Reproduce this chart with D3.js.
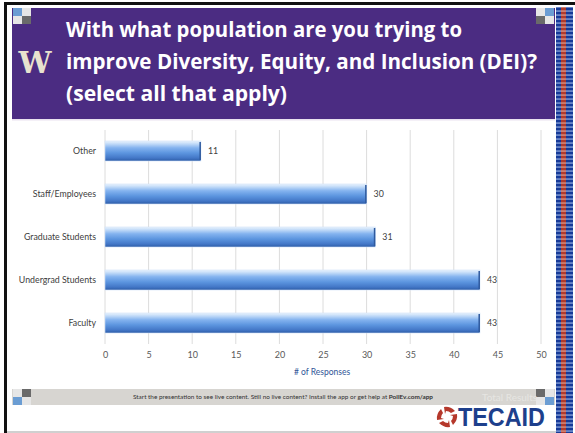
<!DOCTYPE html>
<html><head><meta charset="utf-8">
<script src="https://cdn.jsdelivr.net/npm/d3@7"></script>
<style>html,body{margin:0;padding:0;background:#fff;}svg{display:block;}</style>
</head><body>
<svg id="c" width="575" height="433"></svg>
<script>
const categories = ["Other","Staff/Employees","Graduate Students","Undergrad Students","Faculty"];
const values = [11,30,31,43,43];
const tickValues = [0,5,10,15,20,25,30,35,40,45,50];
const titleLines = ["With what population are you trying to","improve Diversity, Equity, and Inclusion (DEI)?","(select all that apply)"];
const axisTitle = "# of Responses";
const footerText = "Start the presentation to see live content. Still no live content? Install the app or get help at ";
const footerLink = "PollEv.com/app";

const svg = d3.select("#c");
const defs = svg.append("defs");

// bar gradient
const g = defs.append("linearGradient").attr("id","barg").attr("x1",0).attr("y1",0).attr("x2",0).attr("y2",1);
[["0%","#eaf4fe"],["16%","#bcd7f7"],["34%","#84b3ef"],["60%","#5c95df"],["85%","#4377c7"],["100%","#2d5ca6"]]
  .forEach(s=>g.append("stop").attr("offset",s[0]).attr("stop-color",s[1]));

// stripe pattern
const p = defs.append("pattern").attr("id","stripe").attr("patternUnits","userSpaceOnUse").attr("width",17).attr("height",4);
p.append("rect").attr("x",0).attr("y",0).attr("width",5).attr("height",4).attr("fill","#b03a2c");
p.append("rect").attr("x",5).attr("y",0).attr("width",12).attr("height",4).attr("fill","#163a98");
p.append("rect").attr("x",0).attr("y",2.5).attr("width",5).attr("height",1.1).attr("fill","#e0a89c");
p.append("rect").attr("x",5).attr("y",2.5).attr("width",12).attr("height",1.1).attr("fill","#9db6e6");

// frame
svg.append("rect").attr("x",0).attr("y",0).attr("width",575).attr("height",433).attr("fill","#fff");
svg.append("rect").attr("x",4).attr("y",2).attr("width",571).attr("height",3).attr("fill","#111");
svg.append("rect").attr("x",4).attr("y",2).attr("width",3).attr("height",431).attr("fill","#111");
svg.append("rect").attr("x",556).attr("y",7).attr("width",17).attr("height",426).attr("fill","url(#stripe)");
svg.append("rect").attr("x",7).attr("y",431).attr("width",549).attr("height",2).attr("fill","#d0d0d0");

// banner
svg.append("rect").attr("x",12).attr("y",8).attr("width",543).attr("height",111).attr("fill","#4b2c82");
svg.append("rect").attr("x",12).attr("y",119).attr("width",543).attr("height",1.5).attr("fill","#e9e2ef");

function checker(x,y,cols){
  const w=9,h=8;
  cols.forEach((c,i)=>{
    svg.append("rect").attr("x",x+(i%2)*w).attr("y",y+Math.floor(i/2)*h).attr("width",w).attr("height",h).attr("fill",c);
  });
}
const LB="#e6e6e6", DK="#6a6a6a", BL="#6b9dd3";
checker(13,8,[BL,LB,LB,DK]);
checker(536,8,[LB,BL,DK,LB]);

// W logo
svg.append("text").attr("x",35).attr("y",73).attr("text-anchor","middle")
  .attr("font-family","'DejaVu Serif','Liberation Serif',serif").attr("font-weight","bold")
  .attr("font-size",30).attr("fill","#e8e2cf").attr("textLength",33).attr("lengthAdjust","spacingAndGlyphs").text("W");

const titleY=[37,69,101], titleW=[396,471,221];
titleLines.forEach((t,i)=>{
  svg.append("text").attr("x",66).attr("y",titleY[i])
    .attr("font-family","'Open Sans',Lato,sans-serif").attr("font-weight","bold").attr("font-size",20.5)
    .attr("fill","#ffffff").attr("textLength",titleW[i]).attr("lengthAdjust","spacingAndGlyphs").text(t);
});

// chart
const x = d3.scaleLinear().domain([0,50]).range([105,541]);
const y = d3.scaleBand().domain(categories).range([129.5,344.5]).paddingInner(0.535).paddingOuter(0.2675);

svg.append("g").selectAll("line").data(tickValues).join("line")
  .attr("x1",d=>x(d)).attr("x2",d=>x(d)).attr("y1",130).attr("y2",344)
  .attr("stroke","#dcdcdc").attr("stroke-width",1);

const xAxis = svg.append("g").attr("transform","translate(0,344)")
  .call(d3.axisBottom(x).tickValues(tickValues).tickSize(0).tickPadding(8));
xAxis.select(".domain").remove();
xAxis.selectAll("text").attr("font-family","Lato,'Open Sans',sans-serif").attr("font-size",9).attr("fill","#595959");

const yAxis = svg.append("g").attr("transform","translate(96,0)")
  .call(d3.axisLeft(y).tickSize(0).tickPadding(0));
yAxis.select(".domain").remove();
yAxis.selectAll("text").attr("font-family","Lato,'Open Sans',sans-serif").attr("font-size",8.8).attr("fill","#404040");

const bars = svg.append("g").selectAll("g").data(categories).join("g");
bars.append("rect").attr("x",x(0)).attr("y",d=>y(d)).attr("height",y.bandwidth())
  .attr("width",(d,i)=>x(values[i])-x(0)).attr("fill","url(#barg)")
  .attr("stroke","#cfe2f8").attr("stroke-width",0.6);
bars.append("rect").attr("x",(d,i)=>x(values[i])-1.5).attr("y",d=>y(d)+1).attr("height",y.bandwidth()-2)
  .attr("width",1.5).attr("fill","#2f5a9e");
bars.append("text").attr("x",(d,i)=>x(values[i])+7).attr("y",d=>y(d)+y.bandwidth()/2+3)
  .attr("font-family","Lato,'Open Sans',sans-serif").attr("font-size",8.8).attr("fill","#404040")
  .text((d,i)=>values[i]);

svg.append("text").attr("x",322).attr("y",375).attr("text-anchor","middle")
  .attr("font-family","Lato,'Open Sans',sans-serif").attr("font-size",8.5).attr("fill","#2f5597").text(axisTitle);

// footer bar
svg.append("rect").attr("x",12).attr("y",389).attr("width",543).attr("height",16).attr("fill","#d7d5d1");
checker(13,389,[LB,DK,BL,LB]);
checker(536,389,[DK,LB,LB,BL]);
svg.append("text").attr("x",482).attr("y",401).attr("font-family","Lato,'Open Sans',sans-serif")
  .attr("font-size",10).attr("fill","#e6e5e2").text("Total Results");
const ft = svg.append("text").attr("x",133).attr("y",399).attr("font-family","Lato,'Open Sans',sans-serif")
  .attr("font-size",6.3).attr("fill","#333").attr("textLength",300).attr("lengthAdjust","spacingAndGlyphs");
ft.append("tspan").text(footerText);
ft.append("tspan").attr("font-weight","bold").text(footerLink);

// TECAID logo
const lg = svg.append("g").attr("transform","translate(447,417)");
for(let k=0;k<4;k++){
  lg.append("path").attr("transform",`rotate(${k*90})`)
    .attr("d","M -2 -3 L -3 -10 Q 3 -11 8 -6 L 4 -4 Q 2 -6 -1 -6 Z").attr("fill","#b5382b");
}
svg.append("text").attr("x",458).attr("y",426).attr("font-family","'Liberation Sans',Arial,sans-serif")
  .attr("font-weight","bold").attr("font-size",25).attr("fill","#1d3f8c")
  .attr("textLength",87).attr("lengthAdjust","spacingAndGlyphs").text("TECAID");
</script>
</body></html>
